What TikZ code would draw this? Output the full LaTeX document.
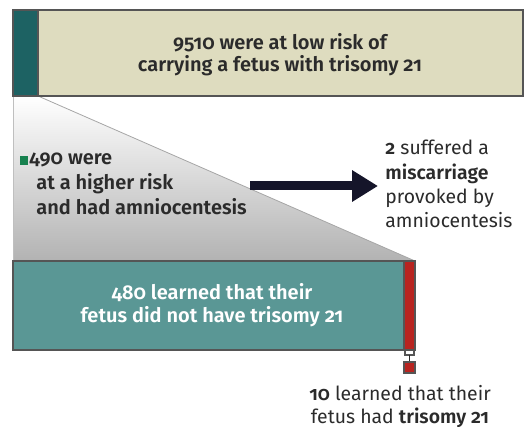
\documentclass[tikz,border=0pt]{standalone}
\usepackage{fontspec}
\setmainfont{Fira Sans}[Numbers=OldStyle, BoldFont=Fira Sans SemiBold]
\usepackage{tikz}
\usetikzlibrary{arrows.meta, positioning}

\definecolor{beige}{HTML}{DEDCBF}
\definecolor{darkteal}{HTML}{1D6263}
\definecolor{teal}{HTML}{5A9795}
\definecolor{riskred}{HTML}{B82420}
\definecolor{ink}{HTML}{15152A}
\definecolor{txt}{HTML}{2B2B2B}

\begin{document}
\begin{tikzpicture}[
    x=0.5pt, y=-0.5pt,
    bar/.style={draw=txt!80, line width=0.6pt},
    label/.style={align=center, font=\fontsize{9.7}{11}\selectfont, text=txt, inner sep=0pt},
    side/.style={align=left, font=\fontsize{9.7}{12.1}\selectfont, text=txt, inner sep=0pt},
    arrow/.style={-{Triangle[length=13pt, width=15pt]}, line width=4.5pt, ink},
]
\useasboundingbox (0,0) rectangle (524,427);

% shaded wedge of the higher-risk group
\shade[top color=white, bottom color=black!30] (13,96) -- (38,96) -- (415,261) -- (13,261) -- cycle;
\draw[black!35, line width=0.4pt] (38,96) -- (415,261);
\draw[black!25, line width=0.4pt] (13,96) -- (13,261);

% top bar
\draw[bar, fill=beige] (38,10) rectangle (523,96);
\draw[bar, fill=darkteal] (13,10) rectangle (38,96);
\node[label, font=\fontsize{10}{11}\selectfont\bfseries] (low) at (280,55) {9510 were at low risk of\\carrying a fetus with trisomy 21};

% bottom bar
\draw[bar, fill=teal] (13,261) rectangle (404,350);
\draw[bar, fill=riskred] (404,261) rectangle (415,350);
\node[label, text=white, font=\fontsize{10}{11.6}\selectfont\bfseries] (neg) at (212,305) {480 learned that their\\fetus did not have trisomy 21};

% small marker below the red strip
\draw[bar, fill=white] (405,350) rectangle (414,355);
\draw[txt, line width=0.6pt] (409.5,355) -- (409.5,362);
\draw[bar, fill=riskred] (404,362) rectangle (415,373);
\node[label, font=\fontsize{9.7}{11.5}\selectfont] (pos) at (400,407) {\textbf{10} learned that their\\fetus had \textbf{trisomy 21}};

% higher risk group
\fill[darkteal!80!green] (20,156) rectangle (28,165);
\node[side, font=\fontsize{10}{12.3}\selectfont\bfseries, anchor=north west] (high) at (36,153) {\hspace*{-3.5pt}490 were\\at a higher risk\\and had amniocentesis};

% miscarriage
\node[side, anchor=west] (loss) at (385,184) {\textbf{2} suffered a\\\textbf{miscarriage}\\provoked by\\amniocentesis};
\coordinate (from) at (250,186);
\draw[arrow] (from) -- ([xshift=-3.5pt]from -| loss.west);
\end{tikzpicture}
\end{document}
